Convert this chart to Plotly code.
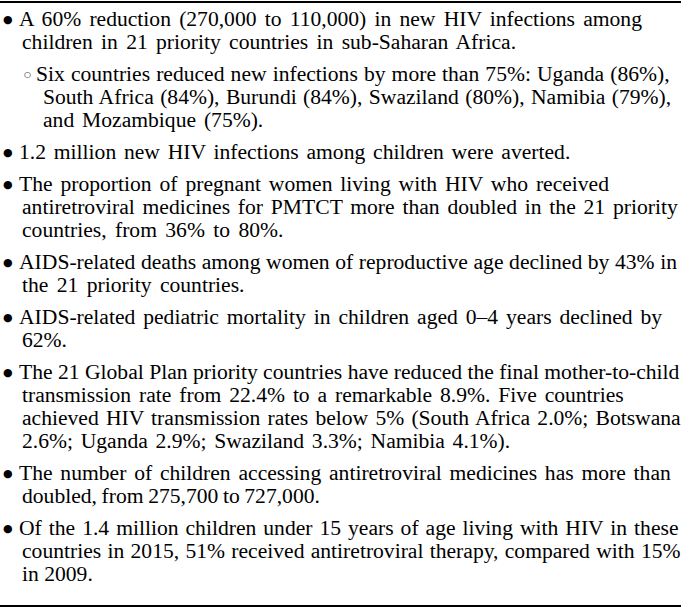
import plotly.graph_objects as go

# ---- content (text lines of each bullet) ----
bullet_lines = [
    ["A 60% reduction (270,000 to 110,000) in new HIV infections among",
     "children in 21 priority countries in sub-Saharan Africa."],
    ["Six countries reduced new infections by more than 75%: Uganda (86%),",
     "South Africa (84%), Burundi (84%), Swaziland (80%), Namibia (79%),",
     "and Mozambique (75%)."],
    ["1.2 million new HIV infections among children were averted."],
    ["The proportion of pregnant women living with HIV who received",
     "antiretroviral medicines for PMTCT more than doubled in the 21 priority",
     "countries, from 36% to 80%."],
    ["AIDS-related deaths among women of reproductive age declined by 43% in",
     "the 21 priority countries."],
    ["AIDS-related pediatric mortality in children aged 0\u20134 years declined by",
     "62%."],
    ["The 21 Global Plan priority countries have reduced the final mother-to-child",
     "transmission rate from 22.4% to a remarkable 8.9%. Five countries",
     "achieved HIV transmission rates below 5% (South Africa 2.0%; Botswana",
     "2.6%; Uganda 2.9%; Swaziland 3.3%; Namibia 4.1%)."],
    ["The number of children accessing antiretroviral medicines has more than",
     "doubled, from 275,700 to 727,000."],
    ["Of the 1.4 million children under 15 years of age living with HIV in these",
     "countries in 2015, 51% received antiretroviral therapy, compared with 15%",
     "in 2009."],
]
bullet_levels = [1, 2, 1, 1, 1, 1, 1, 1, 1]
bullet_marks = {1: "\u25cf", 2: "\u25cb"}

# ---- style: extra word spacing (px) per line, mimicking the typeset justification ----
word_spacing = [
    [2.8, 2.9],
    [0.7, 1.0, 2.5],
    [2.4],
    [2.5, 2.4, 3.0],
    [0.2, 3.0],
    [2.5, 0.0],
    [0.0, 2.5, 1.8, 2.3],
    [2.4, -0.8],
    [1.6, 0.9, 0.0],
]

# ---- layout constants ----
W, H = 681, 608          # visible window
FW, FH = 692, 616        # figure slightly larger so its edges fall outside the view
FS = 21.6
FONT = "Liberation Serif, Times New Roman, serif"
LINE = 23
GAP = 32
FIRST_BASE = 25
MID_OFF = 6
MARK_OFF = 6
indent = {1: dict(mark=2, first=18, cont=21, size=11),
          2: dict(mark=23, first=35, cont=42, size=8)}

fig = go.Figure()

anns = []
base = FIRST_BASE
for bi, lines in enumerate(bullet_lines):
    lvl = bullet_levels[bi]
    ind = indent[lvl]
    for li, txt in enumerate(lines):
        yc = base - MID_OFF
        if li == 0:
            anns.append(dict(x=ind["mark"], y=base - MARK_OFF, text=bullet_marks[lvl],
                             xref="x", yref="y", xanchor="left", yanchor="middle",
                             showarrow=False, borderpad=0,
                             font=dict(family="DejaVu Sans", size=ind["size"], color="black")))
        ws = word_spacing[bi][li]
        styled = '<span style="word-spacing:%.1fpx">%s</span>' % (ws, txt)
        anns.append(dict(x=ind["first"] if li == 0 else ind["cont"], y=yc, text=styled,
                         xref="x", yref="y", xanchor="left", yanchor="middle",
                         showarrow=False, borderpad=0,
                         font=dict(family=FONT, size=FS, color="black")))
        if li < len(lines) - 1:
            base += LINE
    base += GAP

shapes = [
    dict(type="line", xref="x", yref="y", x0=0, x1=FW, y0=2, y1=2,
         line=dict(color="black", width=2)),
    dict(type="line", xref="x", yref="y", x0=0, x1=FW, y0=606, y1=606,
         line=dict(color="black", width=2)),
]

fig.update_layout(
    width=FW, height=FH, margin=dict(l=0, r=0, t=0, b=0),
    paper_bgcolor="white", plot_bgcolor="white",
    xaxis=dict(range=[0, FW], visible=False, fixedrange=True),
    yaxis=dict(range=[FH, 0], visible=False, fixedrange=True),
    annotations=anns, shapes=shapes, showlegend=False,
)

fig.write_html(
    "out.html",
    config={"displayModeBar": False, "staticPlot": True},
    post_script=("document.body.style.margin='0px';"
                 "document.body.style.overflow='hidden';"
                 "document.documentElement.style.overflow='hidden';"),
)
